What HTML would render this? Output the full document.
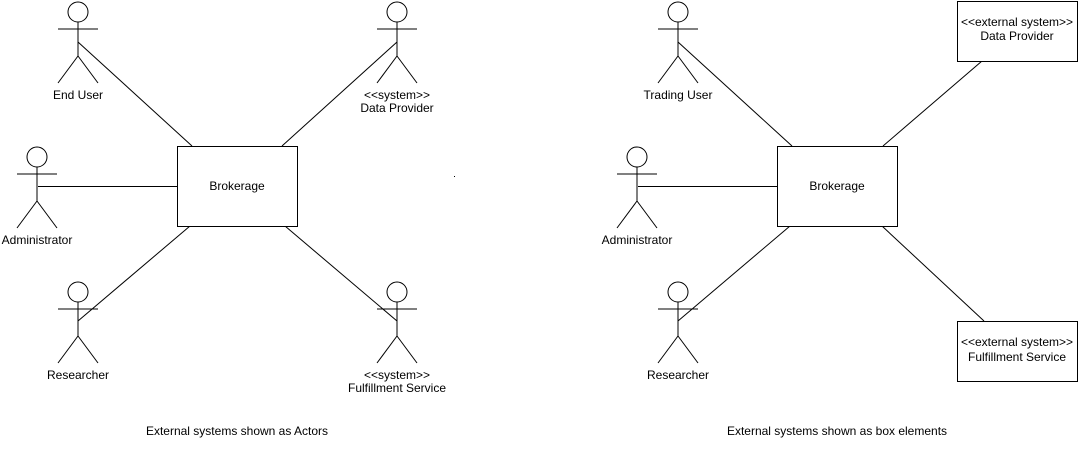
<!DOCTYPE html>
<html><head><style>body{margin:0;background:#fff}svg{display:block}</style></head><body>
<svg width="1079" height="456" viewBox="0 0 1079 456" xmlns="http://www.w3.org/2000/svg" font-family="Liberation Sans, sans-serif" font-size="12" fill="#000">
<defs>
<g id="actor" fill="none" stroke="#000" stroke-width="1">
<circle cx="0" cy="11" r="10" fill="#fff"/>
<line x1="-20" y1="28" x2="20" y2="28"/>
<line x1="0" y1="21" x2="0" y2="55"/>
<line x1="0" y1="55" x2="-20" y2="82"/>
<line x1="0" y1="55" x2="20" y2="82"/>
</g>
</defs>
<g stroke="#000" stroke-width="1" fill="none">
<line x1="78" y1="42" x2="192" y2="146"/>
<line x1="397" y1="42" x2="282" y2="146"/>
<line x1="38" y1="186.5" x2="177" y2="186.5"/>
<line x1="190" y1="226" x2="78" y2="321"/>
<line x1="285" y1="226" x2="397" y2="321"/>
<rect x="177.5" y="146.5" width="120" height="80" fill="#fff"/>
<line x1="678" y1="42" x2="792" y2="146"/>
<line x1="883" y1="146" x2="982" y2="61"/>
<line x1="638" y1="186.5" x2="777" y2="186.5"/>
<line x1="790" y1="226" x2="678" y2="321"/>
<line x1="882" y1="226" x2="984" y2="321"/>
<rect x="777.5" y="146.5" width="120" height="80" fill="#fff"/>
<rect x="957.5" y="1.5" width="120" height="60" fill="#fff"/>
<rect x="957.5" y="321.5" width="120" height="60" fill="#fff"/>
</g>
<use href="#actor" x="78" y="1"/>
<use href="#actor" x="397" y="1"/>
<use href="#actor" x="37" y="146"/>
<use href="#actor" x="78" y="281"/>
<use href="#actor" x="397" y="281"/>
<use href="#actor" x="678" y="1"/>
<use href="#actor" x="637" y="146"/>
<use href="#actor" x="678" y="281"/>
<g text-anchor="middle">
<text x="78" y="99">End User</text>
<text x="397" y="99">&lt;&lt;system&gt;&gt;</text>
<text x="397" y="112">Data Provider</text>
<text x="237" y="190">Brokerage</text>
<text x="37" y="244">Administrator</text>
<text x="78" y="379">Researcher</text>
<text x="397" y="379">&lt;&lt;system&gt;&gt;</text>
<text x="397" y="392">Fulfillment Service</text>
<text x="237" y="435">External systems shown as Actors</text>
<text x="678" y="99">Trading User</text>
<text x="837" y="190">Brokerage</text>
<text x="637" y="244">Administrator</text>
<text x="678" y="379">Researcher</text>
<text x="1017" y="26">&lt;&lt;external system&gt;&gt;</text>
<text x="1017" y="40">Data Provider</text>
<text x="1017" y="346">&lt;&lt;external system&gt;&gt;</text>
<text x="1017" y="361">Fulfillment Service</text>
<text x="837" y="435">External systems shown as box elements</text>
</g>
<rect x="454" y="176" width="1" height="1" fill="#000"/>
</svg>
</body></html>
